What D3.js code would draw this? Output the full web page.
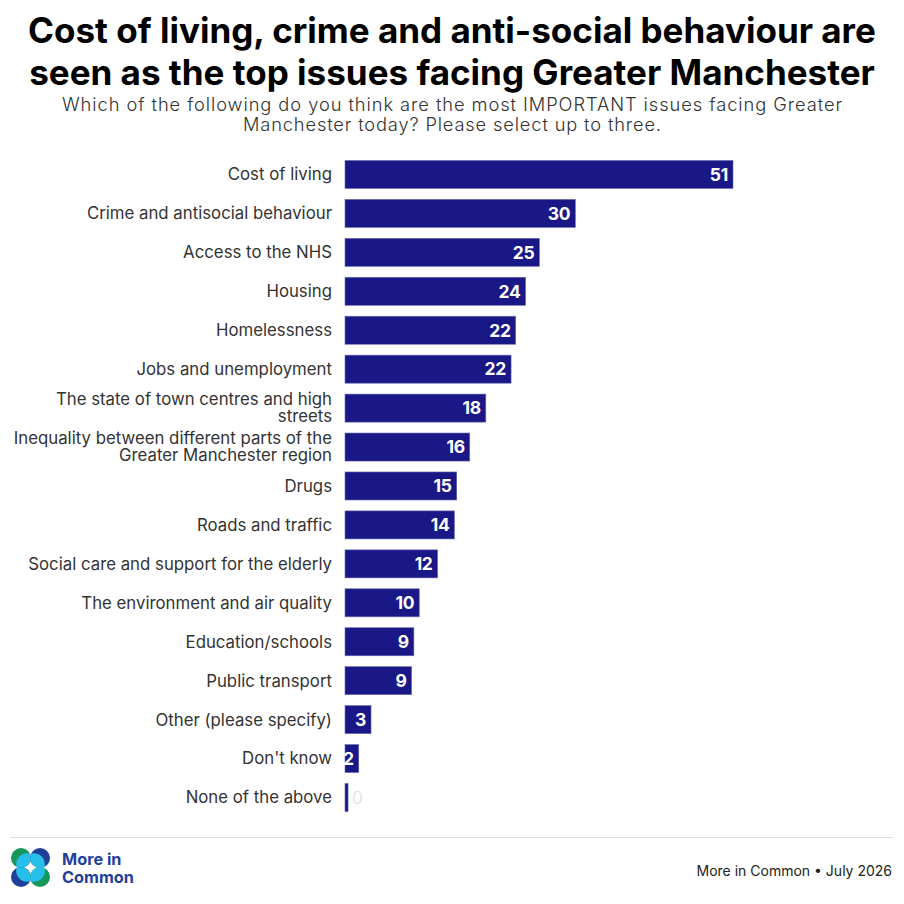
<!DOCTYPE html>
<html>
<head>
<meta charset="utf-8">
<script src="https://cdn.jsdelivr.net/npm/d3@7"></script>
<style>
  body { margin: 0; background: #fff; }
  svg { display: block; font-family: "Inter", "Lato", sans-serif; }
</style>
</head>
<body>
<div class="container"></div>
<script>
// data (percent)
var issues = [
  "Cost of living",
  "Crime and antisocial behaviour",
  "Access to the NHS",
  "Housing",
  "Homelessness",
  "Jobs and unemployment",
  "The state of town centres and high|streets",
  "Inequality between different parts of the|Greater Manchester region",
  "Drugs",
  "Roads and traffic",
  "Social care and support for the elderly",
  "The environment and air quality",
  "Education/schools",
  "Public transport",
  "Other (please specify)",
  "Don't know",
  "None of the above"
];
var shares = [50.7, 30.1, 25.4, 23.6, 22.3, 21.7, 18.4, 16.3, 14.6, 14.3, 12.1, 9.7, 9.0, 8.7, 3.4, 1.8, 0.4];

var titleLines = [
  "Cost of living, crime and anti-social behaviour are",
  "seen as the top issues facing Greater Manchester"
];
var subtitleLines = [
  "Which of the following do you think are the most IMPORTANT issues facing Greater",
  "Manchester today? Please select up to three."
];
var sourceText = "More in Common \u2022 July 2026";

var svgWidth = 904;
var svgHeight = 904;

var margin = { top: 155, left: 345, right: 170, bottom: 110 };

var svg = d3.select(".container")
  .append("svg")
  .attr("width", svgWidth)
  .attr("height", svgHeight);

// title, squeezed to the same width as the reference
var titleText = svg.append("g");
titleLines.forEach(function(line, i) {
  var t = titleText.append("text")
    .attr("x", svgWidth / 2)
    .attr("y", 43 + i * 42)
    .attr("text-anchor", "middle")
    .attr("font-size", 32)
    .attr("font-weight", 700)
    .attr("fill", "#000")
    .text(line);
  var w = t.node().getComputedTextLength();
  var target = i === 0 ? 848 : 846;
  t.attr("font-size", 32 * target / w);
});

// subtitle lines spread to the reference widths
var subWidths = [780, 418];
subtitleLines.forEach(function(line, i) {
  svg.append("text")
    .attr("x", svgWidth / 2 - subWidths[i] / 2)
    .attr("y", 111 + i * 20)
    .attr("font-size", 18.3)
    .attr("font-weight", 300)
    .attr("fill", "#333")
    .attr("textLength", subWidths[i])
    .attr("lengthAdjust", "spacing")
    .text(line);
});

var chartGroup = svg.append("g")
  .attr("transform", `translate(${margin.left}, ${margin.top})`);

var data = issues.map(function(d, i) { return { issue: d, value: shares[i] }; });

var xScale = d3.scaleLinear()
  .domain([0, 50.7])
  .range([0, 388]);

var yScale = d3.scaleBand()
  .domain(issues)
  .range([0, 17 * 38.94])
  .paddingInner(0.28)
  .paddingOuter(0.14);

// bars
chartGroup.selectAll("rect.bar")
  .data(data)
  .enter()
  .append("rect")
  .attr("class", "bar")
  .attr("x", 0)
  .attr("y", d => yScale(d.issue))
  .attr("width", d => xScale(d.value))
  .attr("height", yScale.bandwidth())
  .attr("fill", "#1a1886")
  .attr("stroke", "#6a6ab4")
  .attr("stroke-width", 0.6);

// value labels
chartGroup.selectAll("text.value")
  .data(data)
  .enter()
  .append("text")
  .attr("class", "value")
  .attr("x", d => xScale(d.value) < 10 ? xScale(d.value) + 4 : xScale(d.value) - 5)
  .attr("y", d => yScale(d.issue) + yScale.bandwidth() / 2)
  .attr("dy", "0.36em")
  .attr("text-anchor", d => xScale(d.value) < 10 ? "start" : "end")
  .attr("font-size", 17.5)
  .attr("letter-spacing", -0.3)
  .attr("fill", d => xScale(d.value) < 10 ? "#dcdce4" : "#fff")
  .attr("font-weight", d => xScale(d.value) < 10 ? 300 : 700)
  .text(d => d3.format(".0f")(d.value));

// category labels, split on "|"
var labels = chartGroup.selectAll("text.cat")
  .data(data)
  .enter()
  .append("text")
  .attr("class", "cat")
  .attr("text-anchor", "end")
  .attr("font-size", 16.8)
  .attr("font-weight", 400)
  .attr("fill", "#333");

labels.each(function(d) {
  var parts = d.issue.split("|");
  var yMid = yScale(d.issue) + yScale.bandwidth() / 2;
  var el = d3.select(this);
  parts.forEach(function(p, j) {
    el.append("tspan")
      .attr("x", -13)
      .attr("y", yMid + (j - (parts.length - 1) / 2) * 17)
      .attr("dy", "0.35em")
      .text(p);
  });
});

// footer
svg.append("line")
  .attr("x1", 10).attr("x2", 893)
  .attr("y1", 837.5).attr("y2", 837.5)
  .attr("stroke", "#dcdcdc")
  .attr("stroke-width", 1);

svg.append("text")
  .attr("x", 892)
  .attr("y", 876)
  .attr("text-anchor", "end")
  .attr("font-size", 14)
  .attr("fill", "#222")
  .text(sourceText);

// logo: four two-tone circles
var logo = svg.append("g").attr("transform", "translate(30.5, 867.5)");
var petals = [
  { dx: -9.5, dy: -9.5, outer: "#17975a" },
  { dx: 9.5, dy: -9.5, outer: "#203f98" },
  { dx: -9.5, dy: 9.5, outer: "#203f98" },
  { dx: 9.5, dy: 9.5, outer: "#17975a" }
];
petals.forEach(function(p, i) {
  var id = "petal" + i;
  logo.append("clipPath").attr("id", id)
    .append("circle").attr("cx", p.dx).attr("cy", p.dy).attr("r", 10);
  logo.append("circle")
    .attr("cx", p.dx).attr("cy", p.dy).attr("r", 10)
    .attr("fill", p.outer);
  logo.append("circle")
    .attr("clip-path", `url(#${id})`)
    .attr("cx", p.dx * 0.35).attr("cy", p.dy * 0.35).attr("r", 11)
    .attr("fill", "#25bfea");
});

var brand = svg.append("text")
  .attr("x", 62)
  .attr("font-size", 16.3)
  .attr("font-weight", 700)
  .attr("fill", "#1f3f99");
brand.append("tspan").attr("x", 62).attr("y", 865).text("More in");
brand.append("tspan").attr("x", 62).attr("y", 883).text("Common");
</script>
</body>
</html>
